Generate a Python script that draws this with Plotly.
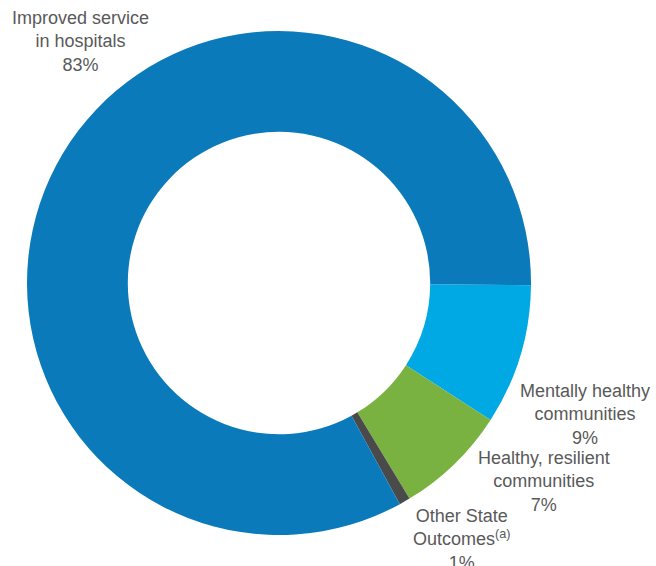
import plotly.graph_objects as go

categories = ["Mentally healthy communities", "Healthy, resilient communities",
              "Other State Outcomes", "Improved service in hospitals"]
values = [9.0, 7.2, 0.7, 83.1]
pct_labels = ["9%", "7%", "1%", "83%"]
label_lines = [
    ["Mentally healthy", "communities"],
    ["Healthy, resilient", "communities"],
    ["Other State", "Outcomes<sup>(a)</sup>"],
    ["Improved service", "in hospitals"],
]
colors = ["#00a9e4", "#7ab241", "#4a4a4a", "#0a7aba"]

W, H = 656, 566
cx, cy, R = 279, 283, 252

fig = go.Figure(go.Pie(
    labels=categories, values=values, sort=False, direction="clockwise",
    rotation=90.5, hole=0.6, textinfo="none", hoverinfo="label+percent",
    marker=dict(colors=colors, line=dict(width=0)),
    domain=dict(x=[(cx - R) / W, (cx + R) / W], y=[(H - cy - R) / H, (H - cy + R) / H]),
    showlegend=False,
))

label_pos = [(80, 42), (585, 414), (544, 482), (461, 539)]
label_order = [3, 0, 1, 2]
for (px, py), i in zip(label_pos, label_order):
    fig.add_annotation(
        text="<br>".join(label_lines[i] + [pct_labels[i]]), x=px / W, y=1 - py / H,
        xref="paper", yref="paper", xanchor="center", yanchor="middle",
        showarrow=False, align="center",
        font=dict(family="Liberation Sans, Arial", size=18, color="#595959"),
    )

fig.update_layout(
    width=W, height=H, margin=dict(l=0, r=0, t=0, b=0),
    paper_bgcolor="white", plot_bgcolor="white",
)
fig.write_html("out.html")
